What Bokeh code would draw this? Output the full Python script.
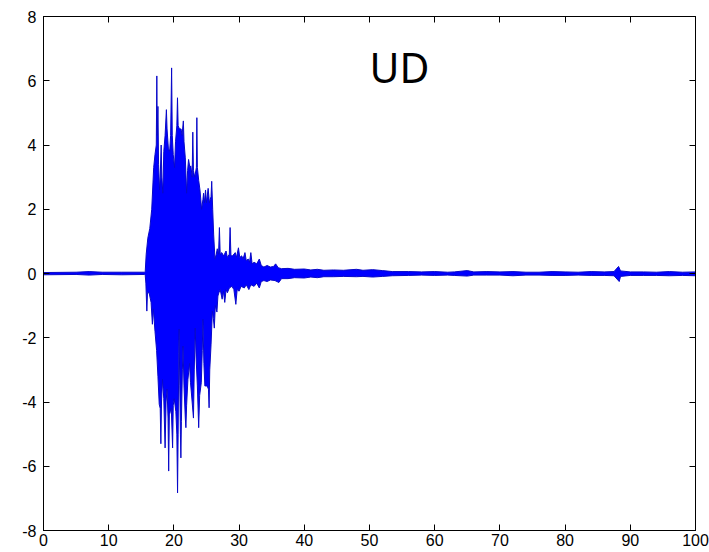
from bokeh.plotting import figure
from bokeh.models import FixedTicker, LinearAxis, Label
from bokeh.embed import file_html
from bokeh.resources import INLINE

# ---- data (upper / lower envelope of the UD trace) ----
t_up = [0, 5, 7, 9, 12, 15.5, 15.6, 15.75, 16.0, 16.3, 16.6, 16.9, 17.1, 17.3, 17.38, 17.45,
        17.55, 17.65, 17.8, 17.9, 18.05, 18.15, 18.3, 18.45, 18.65, 18.85, 18.95, 19.15, 19.35,
        19.5, 19.65, 19.75, 19.9, 20.1, 20.25, 20.45, 20.55, 20.65, 20.85, 21.1, 21.25, 21.45,
        21.55, 21.75, 21.95, 22.1, 22.25, 22.45, 22.6, 22.8, 22.9, 23.0, 23.2, 23.45, 23.52,
        23.6, 23.8, 24.0, 24.25, 24.45, 24.55, 24.7, 24.85, 25.0, 25.25, 25.45, 25.7, 25.8,
        25.95, 26.1, 26.3, 26.5, 26.65, 26.85, 26.98, 27.1, 27.35, 27.6, 27.75, 28.0, 28.2,
        28.5, 28.62, 28.75, 29.0, 29.4, 29.6, 29.9, 30.1, 30.4, 30.6, 30.9, 31.1, 31.4, 31.6,
        31.8, 32.0, 32.3, 32.7, 33.1, 33.4, 33.8, 34.3, 34.8, 35.3, 35.6, 36.0, 36.5, 37.5,
        38.5, 40, 41, 42, 43, 44.5, 46, 48, 49, 50.5, 52, 53.5, 56, 58, 60, 62, 63, 65, 66,
        68, 70, 72, 74, 76, 78, 80, 82, 84, 86, 87.5, 88.2, 88.5, 90, 92, 94, 96, 98, 100]
v_up = [0.03, 0.04, 0.06, 0.04, 0.04, 0.04, 0.05, 0.6, 1.1, 1.4, 2.0, 3.3, 3.7, 4.0, 6.15, 4.3,
        5.2, 3.4, 2.6, 3.0, 4.0, 3.0, 2.5, 3.8, 4.3, 5.1, 4.5, 3.9, 3.8,
        4.3, 6.4, 4.3, 3.7, 3.3, 4.1, 4.6, 5.47, 4.6, 4.5, 4.5, 4.3, 4.75,
        4.1, 3.6, 2.5, 3.2, 3.55, 3.3, 3.35, 3.0, 4.4, 3.2, 3.0, 3.3, 4.85,
        3.3, 2.9, 2.6, 2.0, 2.3, 2.5, 2.2, 2.6, 2.2, 2.65, 2.2, 2.4, 2.87,
        2.0, 1.2, 0.45, 0.6, 0.77, 0.6, 1.43, 0.6, 0.65, 0.55, 0.6, 0.7, 0.5,
        0.6, 1.43, 0.55, 0.55, 0.65, 0.5, 0.8, 0.5, 0.55, 0.45, 0.65, 0.4, 0.45, 0.35,
        0.65, 0.3, 0.35, 0.3, 0.45, 0.25, 0.2, 0.25, 0.2, 0.22, 0.3, 0.18, 0.15, 0.16,
        0.13, 0.14, 0.11, 0.13, 0.1, 0.11, 0.1, 0.13, 0.1, 0.12, 0.09, 0.06, 0.06, 0.05,
        0.06, 0.04, 0.05, 0.09, 0.05, 0.06, 0.05, 0.06, 0.04, 0.04, 0.06, 0.05, 0.04, 0.06,
        0.05, 0.06, 0.22, 0.08, 0.05, 0.05, 0.04, 0.06, 0.04, 0.05]

t_dn = [0, 5, 7, 9, 12, 15.5, 15.6, 15.7, 15.85, 15.95, 16.2, 16.5, 16.7, 16.85, 17.1, 17.35,
        17.55, 17.75, 17.9, 18.0, 18.1, 18.25, 18.45, 18.65, 18.8, 18.95, 19.1, 19.2, 19.3,
        19.45, 19.6, 19.8, 19.9, 20.05, 20.3, 20.45, 20.56, 20.65, 20.75, 20.8, 20.9, 21.0,
        21.07, 21.15, 21.3, 21.4, 21.55, 21.75, 21.84, 21.95, 22.15, 22.4, 22.55, 22.8, 23.0,
        23.12, 23.27, 23.4, 23.6, 23.8, 23.95, 24.2, 24.35, 24.45, 24.6, 24.75, 25.1, 25.3,
        25.4, 25.5, 25.7, 25.9, 26.05, 26.2, 26.35, 26.6, 26.75, 26.9, 27.1, 27.4, 27.6, 27.8,
        28.0, 28.2, 28.5, 28.9, 29.2, 29.5, 29.7, 30.0, 30.3, 30.8, 31.1, 31.5, 31.8, 32.3,
        32.7, 33.1, 33.4, 33.8, 34.3, 34.8, 35.5, 36.1, 36.5, 37.5, 38.5, 40, 41, 42, 43,
        44.5, 46, 48, 49, 50.5, 52, 53.5, 56, 58, 60, 62, 63, 65, 66, 68, 70, 72, 74, 76, 78,
        80, 82, 84, 86, 87.5, 88.3, 88.5, 90, 92, 94, 96, 98, 100]
v_dn = [-0.04, -0.03, -0.05, -0.03, -0.04, -0.03, -0.05, -0.3, -1.17, -0.6, -0.6, -0.9, -1.58, -1.1, -1.8, -2.4,
        -3.2, -4.07, -4.2, -5.3, -4.0, -3.3, -3.9, -5.43, -4.0, -3.6, -4.5, -6.15, -4.4,
        -4.3, -4.2, -5.43, -4.1, -3.9, -4.3, -5.0, -6.83, -5.0, -2.5, -1.73, -3.5, -5.0,
        -5.74, -4.6, -3.0, -2.26, -3.5, -4.5, -4.8, -4.1, -3.3, -2.8, -3.4, -4.0, -4.5,
        -3.0, -1.7, -2.6, -3.5, -4.8, -3.8, -3.4, -2.4, -1.43, -2.8, -3.5, -3.5, -3.6,
        -4.18, -3.0, -2.2, -1.17, -1.4, -1.7, -1.0, -1.2, -0.7, -0.6, -0.5, -0.8, -0.55, -0.9,
        -0.5, -0.6, -0.45, -0.4, -0.5, -0.96, -0.5, -0.55, -0.4, -0.45, -0.35, -0.5, -0.35, -0.4,
        -0.3, -0.45, -0.25, -0.22, -0.25, -0.2, -0.22, -0.28, -0.16, -0.16, -0.13, -0.14, -0.11, -0.13, -0.1,
        -0.1, -0.09, -0.1, -0.09, -0.11, -0.09, -0.07, -0.06, -0.05, -0.06, -0.05, -0.06, -0.08, -0.05, -0.05, -0.05, -0.07, -0.05, -0.05, -0.06,
        -0.06, -0.05, -0.06, -0.06, -0.07, -0.25, -0.09, -0.06, -0.06, -0.06, -0.07, -0.06, -0.07]

x_ticks = [0, 10, 20, 30, 40, 50, 60, 70, 80, 90, 100]
x_labels = ["0", "10", "20", "30", "40", "50", "60", "70", "80", "90", "100"]
y_ticks = [-8, -6, -4, -2, 0, 2, 4, 6, 8]
y_labels = ["-8", "-6", "-4", "-2", "0", "2", "4", "6", "8"]
title_text = "UD"

TICK_FONT = "Liberation Sans"

p = figure(width=709, height=552, x_range=(0, 100), y_range=(-8, 8),
           output_backend="svg", toolbar_location=None,
           min_border_left=43, min_border_right=14, min_border_top=16, min_border_bottom=22)
p.background_fill_color = "white"
p.border_fill_color = "white"
p.outline_line_color = "black"
p.outline_line_width = 1
p.xgrid.visible = False
p.ygrid.visible = False

xs = list(t_up) + list(reversed(t_dn))
ys = list(v_up) + list(reversed(v_dn))
p.patch(xs, ys, fill_color="#0000ff", line_color="#0808c8", line_width=1)

def style_axis(ax, ticks, labels, show_labels):
    ax.ticker = FixedTicker(ticks=ticks)
    ax.major_label_overrides = {t: l for t, l in zip(ticks, labels)}
    ax.major_tick_in = 6
    ax.major_tick_out = 0
    ax.minor_tick_line_color = None
    ax.axis_line_color = "black"
    ax.major_tick_line_color = "black"
    ax.major_label_text_font = TICK_FONT
    if show_labels:
        ax.major_label_text_color = "black"
        ax.major_label_text_font_size = "16px"
    else:
        ax.major_label_text_color = None
        ax.major_label_text_font_size = "1px"
        ax.major_label_standoff = 0

style_axis(p.xaxis[0], x_ticks, x_labels, True)
p.xaxis[0].major_label_standoff = 3
style_axis(p.yaxis[0], y_ticks, y_labels, True)
p.yaxis[0].major_label_standoff = 7

top = LinearAxis()
style_axis(top, x_ticks, x_labels, False)
p.add_layout(top, "above")
right = LinearAxis()
style_axis(right, y_ticks, y_labels, False)
p.add_layout(right, "right")

p.add_layout(Label(x=54.6, y=6.42, text=title_text, text_align="center",
                   text_baseline="alphabetic", text_font="Noto Sans",
                   text_font_size="41px", text_color="black"))

open("out.html", "w").write(file_html(p, INLINE))
